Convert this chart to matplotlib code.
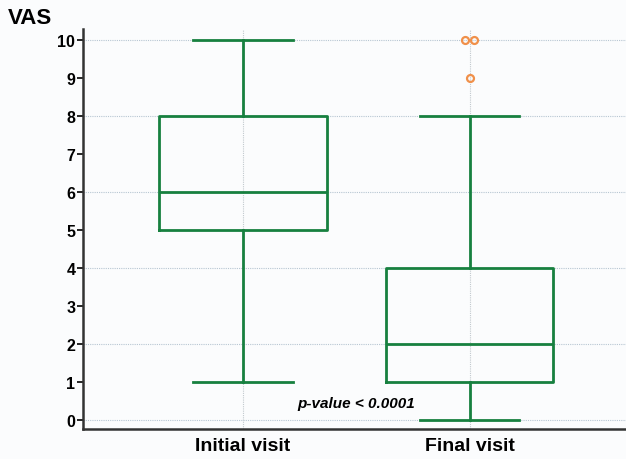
import matplotlib.pyplot as plt

plt.rcParams['font.family'] = ['Liberation Sans', 'DejaVu Sans']

# data
groups = ["Initial visit", "Final visit"]
whisker_low = [1, 0]
q1 = [5, 1]
median = [6, 2]
q3 = [8, 4]
whisker_high = [10, 8]
outliers = [[], [10, 10, 9]]
y_ticks = list(range(0, 11))

green = "#17803f"
orange = "#f0904a"

fig = plt.figure(figsize=(6.26, 4.6), dpi=100)
fig.patch.set_facecolor("#fbfcfd")
ax = fig.add_axes([83 / 626, 30 / 460, 543 / 626, 400 / 460])
ax.set_facecolor("#fbfcfd")

positions = [1, 2]
stats = []
for i, name in enumerate(groups):
    stats.append({
        "label": name,
        "whislo": whisker_low[i],
        "q1": q1[i],
        "med": median[i],
        "q3": q3[i],
        "whishi": whisker_high[i],
        "fliers": [],
    })

line_kw = dict(color=green, linewidth=2)
ax.bxp(stats, positions=positions, widths=0.74, showfliers=False,
       boxprops=line_kw, medianprops=line_kw, whiskerprops=line_kw,
       capprops=line_kw, capwidths=0.44, zorder=3)

# outliers, slightly offset where they overlap
for pos, pts in zip(positions, outliers):
    seen = {}
    for v in pts:
        seen.setdefault(v, 0)
        seen[v] += 1
    for v, n in seen.items():
        offs = [0.0] if n == 1 else [-0.02 + 0.04 * k / (n - 1) for k in range(n)]
        for o in offs:
            ax.plot(pos + o, v, "o", markersize=5, markerfacecolor="none",
                    markeredgecolor=orange, markeredgewidth=1.6, zorder=4)

ax.set_xlim(0.295, 2.69)
ax.set_ylim(-0.24, 10.28)
ax.set_yticks(y_ticks)
ax.set_xticks(positions)
ax.set_xticklabels(groups, fontsize=14, fontweight="bold")
for lab in ax.get_yticklabels():
    lab.set_fontweight("bold")
    lab.set_fontsize(11.5)
ax.tick_params(axis="y", length=4, width=1.2, pad=1.5)
ax.tick_params(axis="x", length=0, pad=6)

for y in range(0, 11, 2):
    ax.axhline(y, color="#b7c6d2", linewidth=0.8, linestyle=(0, (1, 1)), zorder=1)
for x in positions:
    ax.axvline(x, color="#c2c9ce", linewidth=0.8, linestyle=(0, (1, 1)), zorder=1)

for s in ["top", "right"]:
    ax.spines[s].set_visible(False)
for s in ["left", "bottom"]:
    ax.spines[s].set_color("#333333")
    ax.spines[s].set_linewidth(1.8)

fig.text(8 / 626, 1 - 18 / 460, "VAS", fontsize=16, fontweight="bold", va="center")
ax.text(1.5, 0.45, "p-value < 0.0001", fontsize=11, fontweight="bold",
        fontstyle="italic", ha="center", va="center")

fig.savefig("out.png", dpi=100, facecolor=fig.get_facecolor())
